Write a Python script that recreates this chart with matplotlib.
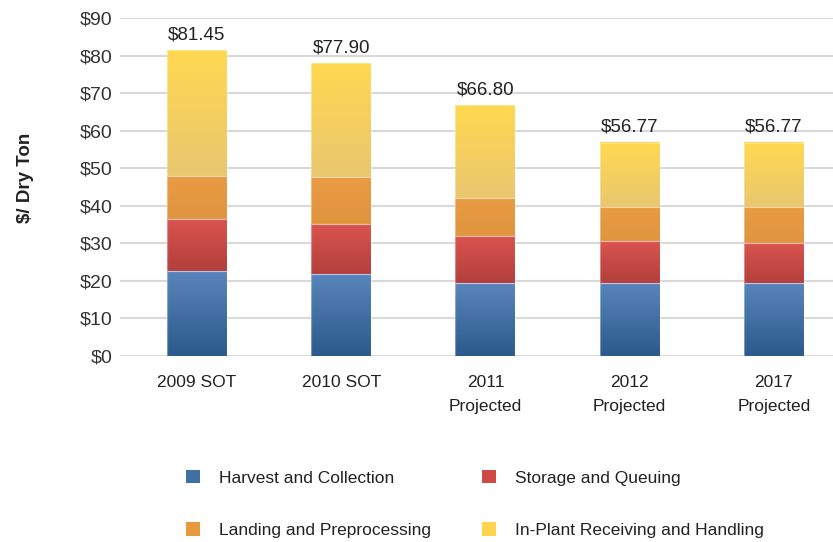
import matplotlib
matplotlib.use("Agg")
import matplotlib.pyplot as plt
import numpy as np
from matplotlib.colors import LinearSegmentedColormap
from matplotlib.patches import Patch

plt.rcParams['font.family'] = ['Liberation Sans', 'DejaVu Sans']

categories = ["2009 SOT", "2010 SOT", "2011\nProjected", "2012\nProjected", "2017\nProjected"]
harvest = [22.6, 21.9, 19.4, 19.5, 19.5]
storage = [14.0, 13.2, 12.6, 11.1, 10.6]
landing = [11.4, 12.6, 10.1, 9.0, 9.5]
inplant = [33.45, 30.2, 24.7, 17.17, 17.17]
totals = [81.45, 77.90, 66.80, 56.77, 56.77]
total_labels = ["$81.45", "$77.90", "$66.80", "$56.77", "$56.77"]
series_names = ["Harvest and Collection", "Storage and Queuing",
                "Landing and Preprocessing", "In-Plant Receiving and Handling"]
yticks = [0, 10, 20, 30, 40, 50, 60, 70, 80, 90]

# gradient (top, bottom) colors per series
grad = [("#5a85bc", "#2c5a8b"),
        ("#da5450", "#b33f3c"),
        ("#e99b42", "#e0953f"),
        ("#ffd850", "#e9c76f")]
legend_colors = ["#3f6fa3", "#d04a45", "#e89a40", "#ffd54f"]

fig = plt.figure(figsize=(8.33, 5.42), dpi=100)
W, H = 833, 542
ax = fig.add_axes([120 / W, 1 - 356 / H, (833 - 120) / W, (356 - 18) / H])

x = np.arange(len(categories))
width = 0.416
bottom = np.zeros(len(categories))
data = [harvest, storage, landing, inplant]
for vals, (ctop, cbot) in zip(data, grad):
    bars = ax.bar(x, vals, width, bottom=bottom, color=cbot, edgecolor='none', zorder=2)
    cmap = LinearSegmentedColormap.from_list("g", [cbot, ctop])
    for b in bars:
        x0, y0 = b.get_x(), b.get_y()
        w, h = b.get_width(), b.get_height()
        img = np.linspace(0, 1, 100).reshape(-1, 1)
        ax.imshow(img, cmap=cmap, origin='lower', aspect='auto',
                  extent=[x0, x0 + w, y0, y0 + h], zorder=3, interpolation='bicubic')
        ax.add_patch(plt.Rectangle((x0, y0), w, h, fill=False,
                                   edgecolor=(1, 1, 1, 0.35), linewidth=0.8, zorder=4))
    bottom = bottom + np.array(vals)

for xi, top, lab in zip(x, bottom, total_labels):
    ax.annotate(lab, (xi, top), xytext=(0, 5), textcoords='offset points',
                ha='center', va='bottom', fontsize=13.5, color='#222222', zorder=5)

ax.set_xlim(-0.534, 4.41)
ax.set_ylim(0, 90)
ax.set_yticks(yticks)
ax.set_yticklabels([f"${v}" for v in yticks], fontsize=14, color='#333333')
ax.set_xticks(x)
ax.set_xticklabels(categories, fontsize=12.5, color='#222222', linespacing=1.75)
ax.tick_params(axis='y', length=0, pad=5.5)
ax.tick_params(axis='x', length=0, pad=14)
ax.grid(axis='y', color='#d9d9d9', linewidth=1.5, zorder=0)
ax.set_axisbelow(True)
for s in ax.spines.values():
    s.set_visible(False)

fig.text(26 / W, 1 - 178 / H, "$/ Dry Ton", rotation=90, fontsize=13.5,
         fontweight='bold', ha='center', va='center', color='#222222')

order = [0, 2, 1, 3]
handles = [Patch(facecolor=legend_colors[i], edgecolor='none') for i in order]
labels = [series_names[i] for i in order]
fig.legend(handles, labels, loc='center', bbox_to_anchor=(475 / W, 1 - 504 / H),
           ncol=2, frameon=False, fontsize=12.5, handlelength=0.8, handleheight=0.8,
           handletextpad=1.1, labelspacing=2.1, columnspacing=2.9, labelcolor='#222222')

fig.savefig("out.png", dpi=100)
